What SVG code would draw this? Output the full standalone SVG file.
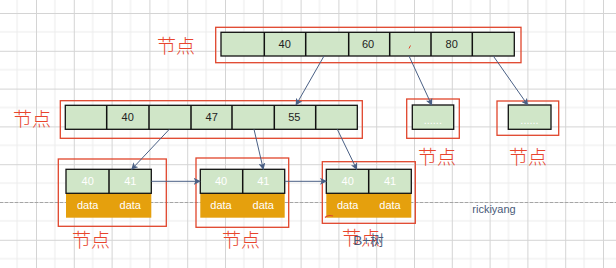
<svg xmlns="http://www.w3.org/2000/svg" width="616" height="268" viewBox="0 0 616 268">
<defs>
<pattern id="grid" patternUnits="userSpaceOnUse" x="-1.8" y="13" width="37.8" height="37.8">
<path d="M18.9 0V37.8M0 18.9H37.8" stroke="#ebebeb" stroke-width="1" fill="none"/>
<path d="M0.5 0V37.8M0 0.5H37.8" stroke="#d4d4d4" stroke-width="1" fill="none"/>
</pattern>
<marker id="arr" viewBox="0 0 10 10" refX="9" refY="5" markerWidth="7" markerHeight="7" orient="auto" markerUnits="userSpaceOnUse">
<path d="M0 0L10 5L0 10L2.5 5Z" fill="#4a6085"/>
</marker>
</defs>
<style>
.frame{fill:none;stroke:#e0452c;stroke-width:1.3}
.cell{fill:#d0e6c8;stroke:#111;stroke-width:1.3}
.data{fill:#e5a00d}
.k{font-family:"Liberation Sans",Arial,sans-serif;font-size:11px;fill:#222;text-anchor:middle;dominant-baseline:central}
.w{font-family:"Liberation Sans",Arial,sans-serif;font-size:11px;fill:#fff;text-anchor:middle;dominant-baseline:central}
.lab{font-family:"Noto Sans CJK SC",sans-serif;font-size:19px;font-weight:300;fill:#e8452d;text-anchor:middle;dominant-baseline:central}
.conn{stroke:#4a6085;stroke-width:1;fill:none;marker-end:url(#arr)}
</style>
<rect width="616" height="268" fill="#fff"/>
<rect width="616" height="268" fill="url(#grid)"/>
<line x1="0" y1="202.5" x2="616" y2="202.5" stroke="#a5a5a5" stroke-width="1" stroke-dasharray="3 2"/>

<g id="root">
<rect class="frame" x="215.7" y="27.3" width="305.3" height="35.4"/>
<rect class="cell" x="221" y="32.3" width="293.3" height="23.7"/>
<path d="M264.3 32.3V56M305.7 32.3V56M348.7 32.3V56M389.7 32.3V56M431 32.3V56M472.3 32.3V56" stroke="#111" stroke-width="1.5"/>
<text class="k" x="284.7" y="44.3">40</text>
<text class="k" x="368" y="44.3">60</text>
<text class="k" x="451.7" y="44.3">80</text>
<path d="M409 48.5L410.5 45.5" stroke="#e0452c" stroke-width="1"/>
<text class="lab" x="176" y="44.5">节点</text>
</g>

<g id="inner">
<rect class="frame" x="60.3" y="100.7" width="302" height="37.6"/>
<rect class="cell" x="65.3" y="105.3" width="292" height="24"/>
<path d="M106.7 105.3V129.3M149 105.3V129.3M191 105.3V129.3M232 105.3V129.3M274.3 105.3V129.3M315.7 105.3V129.3" stroke="#111" stroke-width="1.5"/>
<text class="k" x="127.7" y="117.3">40</text>
<text class="k" x="211.7" y="117.3">47</text>
<text class="k" x="294.3" y="117.3">55</text>
<text class="lab" x="32" y="117.3">节点</text>
</g>

<g id="node-r1">
<rect class="frame" x="406.7" y="99" width="52.6" height="39.3"/>
<rect class="cell" x="412.3" y="105" width="41.4" height="24.3"/>
<text class="w" x="432.8" y="119.5" font-size="10">......</text>
<text class="lab" x="437" y="155.5">节点</text>
</g>

<g id="node-r2">
<rect class="frame" x="497" y="101" width="61.7" height="34.3"/>
<rect class="cell" x="508.3" y="105" width="42.7" height="24.3"/>
<text class="w" x="529.5" y="119.5" font-size="10">......</text>
<text class="lab" x="528" y="155.5">节点</text>
</g>

<g id="leaf1">
<rect class="frame" x="58.3" y="159" width="108" height="67.3"/>
<rect class="data" x="66" y="193.3" width="85.3" height="24.4"/>
<rect class="cell" x="66" y="169.3" width="85.3" height="24"/>
<line x1="109" y1="169.3" x2="109" y2="193.3" stroke="#111" stroke-width="1.5"/>
<text class="w" x="87.7" y="181.3">40</text>
<text class="w" x="130.3" y="181.3">41</text>
<text class="w" x="87.7" y="204.5">data</text>
<text class="w" x="130.3" y="204.5">data</text>
<text class="lab" x="91" y="238.5">节点</text>
</g>

<g id="leaf2">
<rect class="frame" x="196" y="158" width="92.7" height="69.3"/>
<rect class="data" x="200.3" y="193.3" width="84.4" height="24.4"/>
<rect class="cell" x="200.3" y="169.3" width="84.4" height="24"/>
<line x1="242.7" y1="169.3" x2="242.7" y2="193.3" stroke="#111" stroke-width="1.5"/>
<text class="w" x="221" y="181.3">40</text>
<text class="w" x="263.3" y="181.3">41</text>
<text class="w" x="221" y="204.5">data</text>
<text class="w" x="263.3" y="204.5">data</text>
<text class="lab" x="241" y="238.5">节点</text>
</g>

<g id="leaf3">
<rect class="frame" x="322.3" y="161.7" width="93" height="61.6"/>
<rect class="data" x="326.3" y="193.3" width="85" height="24.4"/>
<rect class="cell" x="326.3" y="169.3" width="85" height="24"/>
<line x1="368.7" y1="169.3" x2="368.7" y2="193.3" stroke="#111" stroke-width="1.5"/>
<text class="w" x="347.7" y="181.3">40</text>
<text class="w" x="390" y="181.3">41</text>
<text class="w" x="347.7" y="205">data</text>
<text class="w" x="390" y="205">data</text>
<path d="M325 217.5Q328 214.5 333 216" stroke="#e0452c" stroke-width="1.2" fill="none"/>
<text class="lab" x="361" y="236.5">节点</text>
<text x="368.5" y="240" font-family="'Liberation Sans','Noto Sans CJK SC',sans-serif" font-size="13.5" fill="#4a5a78" text-anchor="middle" dominant-baseline="central">B+树</text>
</g>

<text x="494" y="209" font-family="'Liberation Sans',Arial,sans-serif" font-size="11" fill="#4a5a78" text-anchor="middle" dominant-baseline="central">rickiyang</text>

<g id="connectors">
<line class="conn" x1="324" y1="56" x2="296" y2="105"/>
<line class="conn" x1="409" y1="56" x2="431.7" y2="105"/>
<line class="conn" x1="493.3" y1="56" x2="527.7" y2="105"/>
<line class="conn" x1="169.3" y1="129.3" x2="131.7" y2="169.3"/>
<line class="conn" x1="254" y1="129.3" x2="263.3" y2="169.3"/>
<line class="conn" x1="337.3" y1="129.3" x2="356.7" y2="169.3"/>
<line class="conn" x1="151.3" y1="181.3" x2="200" y2="181.3"/>
<line class="conn" x1="284.7" y1="181.3" x2="326.3" y2="181.3"/>
</g>
</svg>
